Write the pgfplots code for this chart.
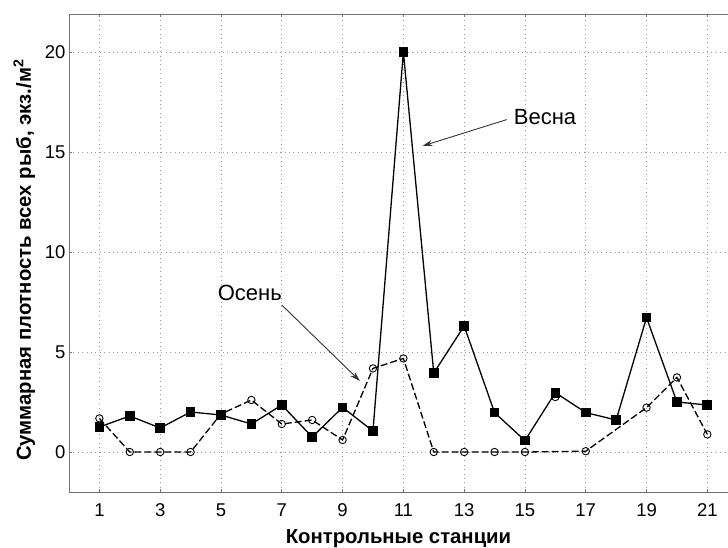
\documentclass[border=0pt]{standalone}
\usepackage{fontspec}
\setmainfont{Liberation Sans}
\usepackage{pgfplots}
\pgfplotsset{compat=1.18}
\usetikzlibrary{arrows.meta}

\pgfplotstableread{
x y
1 1.25
2 1.8
3 1.2
4 2.0
5 1.85
6 1.4
7 2.35
8 0.75
9 2.23
10 1.05
11 20.0
12 3.95
13 6.3
14 1.97
15 0.57
16 2.97
17 1.97
18 1.6
19 6.72
20 2.5
21 2.35
}\spring

\pgfplotstableread{
x y
1 1.68
2 0
3 0
4 0
5 1.9
6 2.6
7 1.4
8 1.6
9 0.6
10 4.18
11 4.68
12 0
13 0
14 0
15 0
17 0.04
19 2.22
20 3.73
21 0.88
}\autumn

\pgfplotstableread{
x y
16 2.75
}\autumnextra

\begin{document}
\begin{tikzpicture}
\begin{axis}[
  scale only axis, width=659pt, height=478pt,
  xmin=0, xmax=21.68, ymin=-2, ymax=21.9,
  axis x line=box, axis y line=left,
  axis line style={-, draw=black!55, line width=0.9pt},
  xtick={1,3,...,21}, ytick={0,5,10,15,20},
  tick align=inside, major tick length=3pt,
  tick style={black!55, line width=0.8pt},
  grid=major,
  major grid style={black!40, line width=0.7pt, dash pattern=on 0.9pt off 3.5pt},
  ticklabel style={font=\fontsize{18.5}{21}\selectfont},
  xticklabel style={yshift=-8pt},
  /pgf/number format/assume math mode=true,
  xlabel={Контрольные станции},
  ylabel={Суммарная плотность всех рыб, экз./м\textsuperscript{2}},
  every axis x label/.style={at={(axis description cs:0.5,0)}, anchor=center, yshift=-47pt, font=\fontsize{20.3}{24}\selectfont\bfseries},
  every axis y label/.style={at={(axis description cs:-0.068,0.485)}, anchor=center, rotate=90, font=\fontsize{20.3}{24}\selectfont\bfseries},
  clip=false,
]
\addplot[black, line width=1.3pt, mark=square*, mark size=4.2pt, mark options={solid, fill=black}] table[x=x,y=y] {\spring};
\addplot[black, line width=1.3pt, dash pattern=on 7pt off 3pt, mark=o, mark size=3.7pt, mark options={solid, fill=white, line width=0.9pt}] table[x=x,y=y] {\autumn};
\addplot[only marks, black, mark=o, mark size=3.7pt, mark options={solid, fill=white, line width=0.9pt}] table[x=x,y=y] {\autumnextra};
\addplot[only marks, black, mark=square*, mark size=4.2pt, mark options={solid, fill=black, fill opacity=0.85}] coordinates {(16,2.97)};

\node[font=\fontsize{22}{26}\selectfont] at (axis cs:15.66,16.75) {Весна};
\draw[black!80, line width=0.9pt, -{Stealth[length=10pt, width=6pt]}] (axis cs:14.4,16.62) -- (axis cs:11.63,15.3);
\node[font=\fontsize{22}{26}\selectfont] at (axis cs:5.95,7.95) {Осень};
\draw[black!80, line width=0.9pt, -{Stealth[length=10pt, width=6pt]}] (axis cs:7.0,7.35) -- (axis cs:9.57,3.55);
\end{axis}
\pgfresetboundingbox
\path ([xshift=-69pt,yshift=-55pt]current axis.south west) rectangle ([yshift=14pt]current axis.north east);
\end{tikzpicture}
\end{document}
